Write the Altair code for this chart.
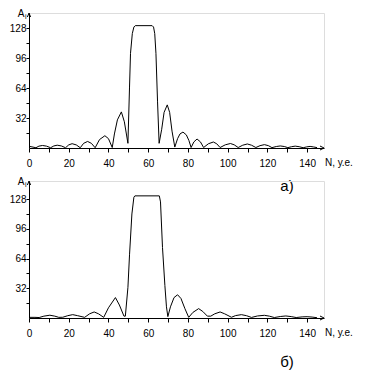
import altair as alt
import pandas as pd

# ---- panel а) ----
a_n = [0, 1.5, 3.5, 5, 6.8, 8.8, 10.9, 12.5, 14.2, 16.3, 18.4, 20, 21.7, 23.8, 25.8,
       27.5, 29.5, 31.4, 33.3, 35.5, 38.2, 40, 41.9, 43, 44.5, 46.5, 48, 49.8, 50.6,
       51.1, 52, 52.8, 53.5, 62, 62.7, 63.3, 63.9, 64.7, 65.5, 66.8, 68, 69.6, 70.8,
       72, 73.4, 74.8, 76, 77.5, 79.2, 80.5, 81.6, 83, 84.6, 86.3, 87.9, 90.3, 92.8,
       94.5, 96.2, 98.8, 101.4, 103.3, 105.3, 107.6, 109.9, 112, 114.2, 116.3, 118.5,
       120.5, 122.3, 124.5, 126.5, 128.5, 130.3, 132.2, 134, 136, 138, 139.8, 141.5,
       143.3, 145]
a_amp = [1.8, 1.2, 0.3, 2.0, 2.7, 2.0, 0.3, 2.2, 3.0, 2.2, 0.3, 3.3, 4.6, 3.3, 0.3,
         5, 7, 5, 0.3, 9, 13.1, 10, 0.5, 15, 30, 38.5, 28, 5, 65,
         101, 122, 129, 130.5, 130.5, 129, 122, 101, 50, 5, 20, 38, 46, 38,
         18, 1, 10, 15, 17, 14, 8, 0.5, 6.5, 9.6, 6.5, 0.5, 4.5, 6.4,
         4.5, 0.5, 3.4, 4.8, 3.4, 0.5, 3, 4.3, 3, 0.5, 2.5, 3.6,
         2.5, 0.4, 1.6, 2.2, 1.6, 0.4, 1.4, 2.0, 1.4, 0.3, 1.2, 1.7,
         1.1, 0.4]

# ---- panel б) ----
b_n = [0, 3, 5.1, 7.5, 10.5, 13, 15, 17, 19.5, 22, 24.5, 28, 30.5, 32.8, 35, 37.6,
       40, 43.5, 45.5, 47.8, 48.5, 49.8, 50.6, 51.8, 52.8, 53.3, 65.6, 66.2, 67.2,
       68.4, 69.2, 69.9, 71.2, 73, 74.8, 76.5, 78.5, 80.4, 82.5, 85.4, 87.5, 89.8,
       91.5, 93.5, 96.2, 98.5, 101.9, 104, 106.9, 109.5, 112, 115, 118.5, 121, 123.5,
       126.5, 129.3, 132, 134.5, 137.5, 140, 142.5, 145]
b_amp = [0.7, 0.7, 0.5, 2.0, 3.0, 2.0, 0.7, 0.8, 2.5, 3.6, 2.5, 0.7, 4.5, 6.5, 4.5, 0.7,
         11, 22, 14, 2, 2, 33, 68, 112, 130, 131.5, 131.5, 125, 76,
         35, 12, 1.5, 12, 22, 25, 21, 10, 0.7, 6, 10.1, 7, 2,
         2, 4.5, 6.5, 4.5, 0.8, 2.6, 3.6, 2.5, 0.6, 2.2, 2.9, 2, 0.5,
         1.6, 2.2, 1.5, 0.5, 1.2, 1.4, 1.0, 0.3]

x_ticks = list(range(0, 150, 10))
y_ticks = [16, 32, 48, 64, 80, 96, 112, 128]

FONT = "Liberation Sans"
W = 295
XMAX = 148.5


def panel(n, amp, h, ymax, tag, tag_y):
    df = pd.DataFrame({"N": n, "A": amp})
    one = pd.DataFrame({"k": [0]})
    line = alt.Chart(df).mark_line(color="black", strokeWidth=1).encode(
        x=alt.X("N:Q",
                scale=alt.Scale(domain=[0, XMAX], nice=False, zero=False),
                axis=alt.Axis(values=x_ticks,
                              labelExpr="datum.value % 20 == 0 ? datum.label : ''",
                              title=None, grid=False, tickSize=4, labelPadding=6,
                              labelFlush=False, labelOverlap=False,
                              domainColor="black", tickColor="black",
                              labelColor="black", labelFont=FONT, labelFontSize=10)),
        y=alt.Y("A:Q",
                scale=alt.Scale(domain=[0, ymax], nice=False),
                axis=alt.Axis(values=y_ticks,
                              labelExpr="datum.value % 32 == 0 ? datum.label : ''",
                              title=None, grid=False, tickSize=3, labelPadding=0,
                              labelOverlap=False,
                              domainColor="black", tickColor="black",
                              labelColor="black", labelFont=FONT, labelFontSize=10)),
    )
    up_arrow = alt.Chart(one).mark_point(
        shape="M-0.8,2L0,0L0.8,2", filled=False, color="black", strokeWidth=1,
        size=16, opacity=1
    ).encode(x=alt.value(0), y=alt.value(0))
    right_arrow = alt.Chart(one).mark_point(
        shape="M-2,-1L0,0L-2,1", filled=False, color="black", strokeWidth=1,
        size=16, opacity=1
    ).encode(x=alt.value(W), y=alt.value(h))
    a_txt = alt.Chart(one).mark_text(
        text="A", font=FONT, fontSize=10, align="right", baseline="alphabetic",
        color="black"
    ).encode(x=alt.value(-4.5), y=alt.value(4))
    i_txt = alt.Chart(one).mark_text(
        text="i", font=FONT, fontSize=7, align="left", baseline="alphabetic",
        color="black"
    ).encode(x=alt.value(-4), y=alt.value(6))
    n_txt = alt.Chart(one).mark_text(
        text="N, у.е.", font=FONT, fontSize=10, align="left", baseline="top",
        color="black"
    ).encode(x=alt.value(W + 1), y=alt.value(h + 10))
    tag_txt = alt.Chart(one).mark_text(
        text=tag, font=FONT, fontSize=15, align="center", baseline="middle",
        color="black"
    ).encode(x=alt.value(258), y=alt.value(tag_y))
    return alt.layer(line, up_arrow, right_arrow, a_txt, i_txt, n_txt, tag_txt).properties(
        width=W, height=h)


top = panel(a_n, a_amp, 135, 144, "а)", 173)
bottom = panel(b_n, b_amp, 137, 147.5, "б)", 181)

chart = alt.vconcat(top, bottom, spacing=33).properties(
    padding=0, bounds="flush"
).configure_view(strokeWidth=0).configure(background="white")

chart.save("out.html", embed_options={"renderer": "svg", "actions": False})
